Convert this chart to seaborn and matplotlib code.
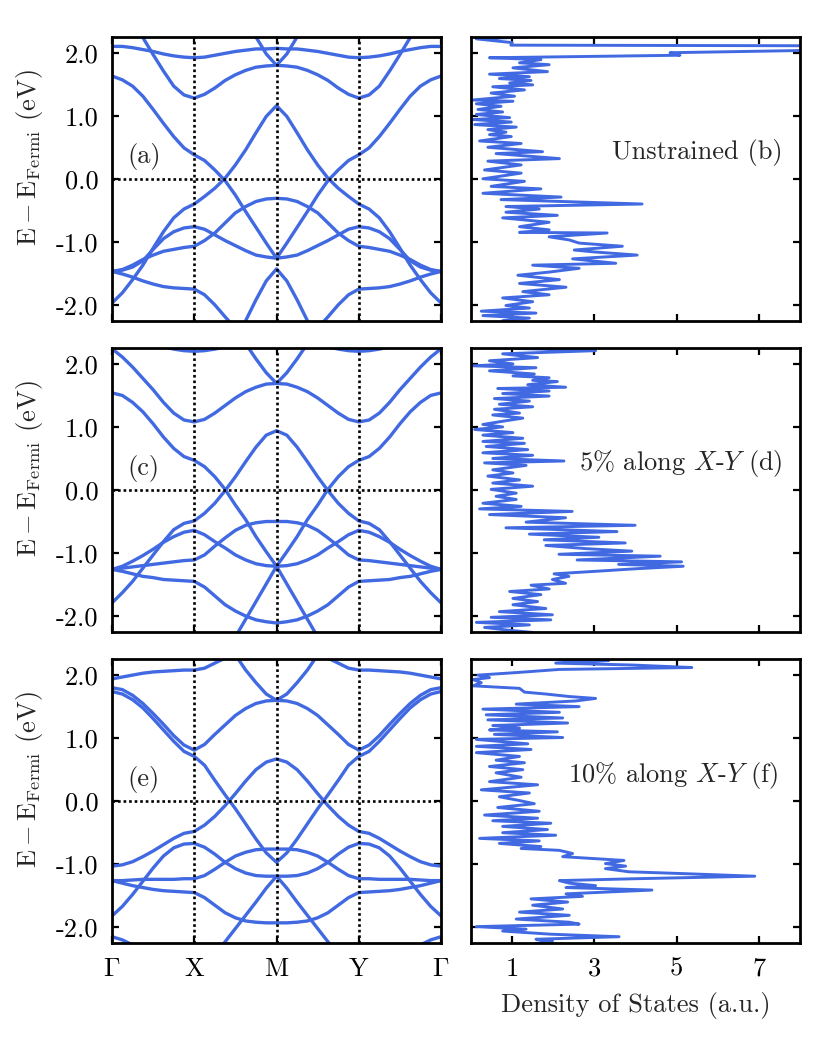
import numpy as np
import pandas as pd
import seaborn as sns
import matplotlib
matplotlib.use("Agg")
import matplotlib.pyplot as plt

nan = np.nan

# --- k-path: Gamma(0) - X(1) - M(2) - Y(3) - Gamma(4) ---
# bands are read on the half path Gamma -> X -> M, the other half is the mirror image
K_HALF = [0, 0.125, 0.25, 0.375, 0.5, 0.625, 0.75, 0.875, 1,
          1.125, 1.25, 1.375, 1.5, 1.625, 1.75, 1.875, 2]
K_TICKS = [0, 1, 2, 3, 4]
K_LABELS = [r"$\Gamma$", "X", "M", "Y", r"$\Gamma$"]
E_TICKS = [-2.0, -1.0, 0.0, 1.0, 2.0]
E_TICK_LABELS = ["-2.0", "-1.0", "0.0", "1.0", "2.0"]
DOS_TICKS = [1, 3, 5, 7]

# (a) unstrained
BANDS_A = [
    [2.10, 2.10, 2.08, 2.05, 2.02, 1.98, 1.95, 1.93, 1.92, 1.93, 1.96, 1.99, 2.02, 2.04, 2.06, 2.06, 2.07],
    [2.80, 2.65, 2.45, 2.24, 1.97, 1.71, 1.47, 1.33, 1.28, 1.34, 1.44, 1.56, 1.65, 1.72, 1.77, 1.79, 1.80],
    [nan] * 11 + [3.00, 2.75, 2.50, 2.25, 1.98, 1.80],
    [1.63, 1.57, 1.47, 1.31, 1.10, 0.88, 0.67, 0.49, 0.38, 0.29, 0.14, -0.03, -0.26, -0.52, -0.77, -1.02, -1.26],
    [-1.97, -1.81, -1.60, -1.37, -1.10, -0.84, -0.62, -0.48, -0.40, -0.28, -0.15, 0.01, 0.22, 0.46, 0.73, 0.99, 1.16],
    [-1.47, -1.44, -1.37, -1.28, -1.21, -1.15, -1.12, -1.09, -1.07, -0.98, -0.86, -0.70, -0.54, -0.44, -0.36, -0.32, -0.31],
    [-1.47, -1.45, -1.40, -1.30, -1.12, -0.95, -0.84, -0.78, -0.76, -0.80, -0.89, -0.98, -1.06, -1.14, -1.21, -1.24, -1.26],
    [-1.47, -1.51, -1.56, -1.62, -1.67, -1.71, -1.73, -1.74, -1.75, -1.84, -2.00, -2.19, -2.37, -2.55, nan, nan, nan],
    [nan] * 11 + [-2.90, -2.60, -2.25, -1.92, -1.62, -1.43],
]

# (c) 5% along X-Y
BANDS_C = [
    [nan, nan, nan, nan, 2.35, 2.27, 2.235, 2.21, 2.20, 2.21, 2.235, 2.27, 2.35, nan, nan, nan, nan],
    [2.24, 2.11, 1.95, 1.77, 1.59, 1.39, 1.22, 1.11, 1.08, 1.12, 1.22, 1.34, 1.46, 1.56, 1.63, 1.68, 1.69],
    [nan] * 11 + [2.85, 2.58, 2.32, 2.08, 1.86, 1.69],
    [1.54, 1.50, 1.39, 1.24, 1.05, 0.84, 0.66, 0.53, 0.47, 0.37, 0.21, 0.01, -0.24, -0.47, -0.74, -0.98, -1.21],
    [-1.79, -1.63, -1.45, -1.24, -1.03, -0.82, -0.63, -0.53, -0.49, -0.37, -0.21, -0.01, 0.21, 0.45, 0.68, 0.87, 0.94],
    [-1.26, -1.24, -1.22, -1.20, -1.18, -1.16, -1.14, -1.12, -1.11, -1.03, -0.89, -0.76, -0.64, -0.56, -0.52, -0.50, -0.50],
    [-1.26, -1.21, -1.13, -1.04, -0.94, -0.83, -0.74, -0.67, -0.64, -0.71, -0.82, -0.92, -1.03, -1.11, -1.17, -1.20, -1.21],
    [-1.26, -1.29, -1.33, -1.37, -1.39, -1.42, -1.43, -1.44, -1.45, -1.54, -1.68, -1.82, -1.92, -2.00, -2.06, -2.09, -2.11],
    [nan] * 10 + [-2.90, -2.61, -2.33, -2.05, -1.77, -1.49, -1.21],
]

# (e) 10% along X-Y
BANDS_E = [
    [1.94, 1.97, 2.00, 2.03, 2.05, 2.06, 2.07, 2.08, 2.08, 2.11, 2.19, 2.27, 2.40, 2.55, nan, nan, nan],
    [1.80, 1.77, 1.68, 1.55, 1.39, 1.22, 1.04, 0.89, 0.81, 0.90, 1.06, 1.21, 1.36, 1.47, 1.55, 1.59, 1.60],
    [nan] * 11 + [2.55, 2.32, 2.08, 1.88, 1.70, 1.60],
    [1.74, 1.70, 1.61, 1.48, 1.31, 1.13, 0.95, 0.79, 0.71, 0.57, 0.33, 0.10, -0.12, -0.36, -0.60, -0.82, -0.97],
    [-1.03, -1.01, -0.96, -0.88, -0.79, -0.69, -0.59, -0.51, -0.48, -0.38, -0.24, -0.07, 0.12, 0.32, 0.50, 0.62, 0.67],
    [-1.26, -1.26, -1.25, -1.24, -1.24, -1.24, -1.24, -1.23, -1.23, -1.18, -1.08, -0.97, -0.87, -0.81, -0.77, -0.76, -0.76],
    [-1.82, -1.67, -1.48, -1.27, -1.06, -0.87, -0.74, -0.68, -0.67, -0.73, -0.84, -0.97, -1.07, -1.14, -1.18, -1.19, -1.19],
    [-1.26, -1.30, -1.34, -1.37, -1.40, -1.42, -1.43, -1.44, -1.45, -1.53, -1.65, -1.77, -1.85, -1.90, -1.92, -1.93, -1.93],
    [nan] * 8 + [-2.85, -2.65, -2.44, -2.23, -2.02, -1.81, -1.60, -1.38, -1.19],
    [-2.15, -2.20, -2.28, -2.40, -2.55] + [nan] * 12,
]

# --- density of states (energy, DOS) ---
E_B = [2.25, 2.22, 2.16, 2.12, 2.11, 2.04, 2.00, 1.96, 1.92, 1.89, 1.84, 1.81, 1.76, 1.70, 1.66, 1.62,
       1.59, 1.56, 1.52, 1.49, 1.46, 1.41, 1.36, 1.31, 1.25, 1.23, 1.19, 1.15, 1.10, 1.06, 1.02, 0.97,
       0.94, 0.90, 0.86, 0.82, 0.78, 0.74, 0.70, 0.67, 0.60, 0.56, 0.50, 0.43, 0.40, 0.32, 0.28, 0.22,
       0.14, 0.09, 0.00, -0.04, -0.12, -0.16, -0.23, -0.29, -0.33, -0.40, -0.44, -0.48, -0.53, -0.58,
       -0.62, -0.69, -0.76, -0.81, -0.85, -0.86, -0.92, -0.97, -1.02, -1.07, -1.13, -1.16, -1.21, -1.27,
       -1.34, -1.37, -1.42, -1.48, -1.53, -1.60, -1.66, -1.72, -1.79, -1.84, -1.89, -1.95, -2.01, -2.05,
       -2.10, -2.13, -2.17, -2.21, -2.25]
DOS_B = [1.42, 0.13, 1.00, 0.97, 8.5, 8.5, 4.84, 5.08, 0.45, 1.70, 1.18, 1.90, 1.02, 1.86, 0.45, 1.42,
         0.69, 1.46, 0.94, 1.50, 0.53, 1.30, 0.49, 1.06, 0.05, 1.02, 0.13, 0.73, 0.17, 0.77, 0.13, 0.94,
         0.05, 0.98, 0.09, 1.10, 0.41, 0.85, 0.45, 0.98, 0.21, 1.22, 0.41, 1.74, 0.61, 2.15, 0.41, 1.22,
         0.33, 1.22, 0.29, 1.30, 0.49, 1.70, 0.29, 2.19, 0.73, 4.16, 0.85, 1.66, 0.85, 2.10,
         0.77, 1.90, 1.18, 1.90, 1.18, 3.31, 1.90, 2.39, 2.63, 3.68, 2.51, 2.99, 4.04, 2.47,
         3.52, 1.50, 2.63, 1.90, 1.14, 2.15, 1.18, 2.31, 1.26, 1.90, 0.77, 1.50, 0.85, 1.42,
         0.25, 1.58, 0.29, 1.42, 0.77]

E_D = [2.26, 2.21, 2.16, 2.10, 2.05, 2.00, 1.97, 1.94, 1.89, 1.84,
       1.81, 1.78, 1.74, 1.72, 1.67, 1.63, 1.61, 1.57, 1.53, 1.49,
       1.45, 1.41, 1.36, 1.32, 1.28, 1.22, 1.19, 1.14, 1.09, 1.04,
       1.00, 0.96, 0.91, 0.87, 0.82, 0.77, 0.74, 0.69, 0.64, 0.59,
       0.55, 0.50, 0.46, 0.43, 0.39, 0.32, 0.27, 0.22, 0.16, 0.11,
       0.06, 0.01, -0.05, -0.10, -0.15, -0.21, -0.26, -0.30, -0.34, -0.39,
       -0.44, -0.51, -0.56, -0.60, -0.66, -0.70, -0.75, -0.79, -0.84, -0.88,
       -0.93, -0.97, -1.02, -1.05, -1.11, -1.14, -1.18, -1.21, -1.25, -1.29,
       -1.33, -1.37, -1.42, -1.48, -1.51, -1.57, -1.61, -1.66, -1.72, -1.77,
       -1.82, -1.88, -1.93, -1.98, -2.02, -2.06, -2.10, -2.14, -2.18, -2.22,
       -2.26]
DOS_D = [0.33, 3.03, 0.77, 1.62, 0.45, 1.02, 0.05, 1.58, 0.45, 1.54,
         1.02, 1.90, 1.50, 2.10, 1.38, 2.30, 0.65, 1.90, 0.77, 1.90,
         0.57, 1.42, 0.69, 1.50, 0.57, 1.18, 0.53, 1.26, 0.77, 0.29,
         0.77, 0.09, 1.02, 0.29, 1.26, 0.29, 1.30, 0.37, 1.38, 0.29,
         1.50, 0.53, 2.26, 0.33, 1.34, 0.53, 1.02, 0.41, 1.18, 0.53,
         1.50, 0.49, 1.10, 0.61, 1.10, 0.29, 1.22, 0.21, 2.46, 0.45,
         2.30, 1.34, 3.99, 0.85, 3.55, 1.42, 3.11, 1.78, 3.75, 1.82,
         2.79, 3.91, 2.14, 4.60, 2.58, 5.12, 3.59, 5.16, 3.99, 3.03,
         2.02, 2.38, 1.98, 2.30, 1.46, 1.90, 0.94, 1.70, 1.02, 1.62,
         1.02, 1.82, 0.69, 1.98, 0.49, 1.94, 0.13, 1.42, 0.33, 0.85,
         1.50]

E_F = [2.26, 2.23, 2.19, 2.16, 2.12, 2.09, 2.04, 2.00, 1.96, 1.93,
       1.88, 1.83, 1.79, 1.73, 1.70, 1.66, 1.63, 1.59, 1.54, 1.50,
       1.46, 1.41, 1.37, 1.32, 1.29, 1.24, 1.20, 1.16, 1.13, 1.10,
       1.06, 1.01, 0.98, 0.91, 0.87, 0.82, 0.77, 0.71, 0.65, 0.61,
       0.55, 0.50, 0.45, 0.38, 0.31, 0.26, 0.18, 0.13, 0.07, 0.01,
       -0.04, -0.10, -0.16, -0.22, -0.27, -0.31, -0.35, -0.40, -0.45, -0.50,
       -0.54, -0.59, -0.63, -0.67, -0.72, -0.75, -0.78, -0.83, -0.88, -0.94,
       -0.99, -1.03, -1.07, -1.12, -1.15, -1.19, -1.23, -1.26, -1.30, -1.34,
       -1.37, -1.41, -1.47, -1.51, -1.55, -1.60, -1.65, -1.71, -1.76, -1.81,
       -1.87, -1.92, -1.95, -1.99, -2.03, -2.06, -2.11, -2.15, -2.19, -2.22,
       -2.26]
DOS_F = [0.73, 3.35, 2.06, 3.92, 5.37, 2.15, 1.10, 0.17, 0.45, 0.05,
         0.25, 0.05, 1.18, 1.30, 1.82, 2.39, 3.03, 2.55, 1.10, 2.63,
         0.29, 2.15, 0.37, 2.23, 0.41, 2.35, 0.53, 1.18, 0.45, 2.10,
         0.57, 2.23, 0.13, 1.38, 0.13, 1.46, 0.13, 1.18, 0.61, 1.30,
         0.45, 1.26, 0.61, 1.22, 0.45, 1.62, 0.25, 1.42, 0.69, 1.18,
         1.54, 0.65, 1.66, 0.33, 1.62, 0.53, 1.94, 0.77, 1.86, 0.77,
         2.06, 0.21, 1.66, 0.69, 1.70, 1.22, 2.15, 2.47, 2.23, 3.72,
         3.27, 3.76, 3.27, 3.84, 5.21, 6.90, 4.00, 2.15, 2.39, 3.03,
         2.31, 4.40, 2.31, 2.71, 1.46, 2.35, 1.50, 2.23, 1.18, 2.39,
         1.10, 2.39, 2.63, 0.13, 1.34, 0.77, 1.94, 3.60, 1.58, 1.98,
         1.54]

PANEL_TAGS = ["(a)", "(c)", "(e)"]
DOS_TAGS = ["Unstrained (b)", r"5% along $X$-$Y$ (d)", r"10% along $X$-$Y$ (f)"]

BLUE = "#4169E1"
DOT = (0, (1.0, 1.1))


def band_frame(bands):
    k_full = K_HALF + [4 - k for k in K_HALF[::-1][1:]]
    rows = []
    for i, e in enumerate(bands):
        e_full = e + e[::-1][1:]
        for k, v in zip(k_full, e_full):
            rows.append({"band": i, "k": k, "E": v})
    return pd.DataFrame(rows)


sns.set_theme(style="ticks")
plt.rcParams.update({
    "font.family": ["cmr10"],
    "mathtext.fontset": "cm",
    "axes.unicode_minus": False,
    "font.size": 19,
    "axes.linewidth": 2.0,
    "axes.edgecolor": "black",
})

fig, axes = plt.subplots(3, 2, figsize=(8.31, 10.38), dpi=100)
fig.subplots_adjust(left=0.1348, right=0.9627, top=0.9644, bottom=0.0915,
                    wspace=0.091, hspace=0.097)

band_sets = [BANDS_A, BANDS_C, BANDS_E]
dos_sets = [(E_B, DOS_B), (E_D, DOS_D), (E_F, DOS_F)]
dos_tag_pos = [(0.948, 0.592), (0.948, 0.595), (0.933, 0.59)]

for row in range(3):
    ax = axes[row, 0]
    df = band_frame(band_sets[row])
    sns.lineplot(data=df, x="k", y="E", units="band", estimator=None, sort=False,
                 color=BLUE, linewidth=2.4, legend=False, ax=ax)
    for k in K_TICKS[1:-1]:
        ax.axvline(k, color="black", ls=DOT, lw=1.9, zorder=3)
    ax.axhline(0, color="black", ls=DOT, lw=1.9, zorder=3)
    ax.set_xlim(0, 4)
    ax.set_ylim(-2.25, 2.25)
    ax.set_xticks(K_TICKS)
    ax.set_yticks(E_TICKS)
    ax.set_yticklabels(E_TICK_LABELS)
    ax.tick_params(direction="in", top=True, right=True, length=5, width=1.6,
                   pad=10, labelsize=19, colors="black")
    ax.set_xlabel("")
    if row == 2:
        ax.set_xticklabels(K_LABELS)
    else:
        ax.tick_params(labelbottom=False)
    ax.set_ylabel(r"$\mathrm{E} - \mathrm{E}_{\mathrm{Fermi}}$ (eV)", fontsize=19)
    ax.yaxis.set_label_coords(-0.205, 0.576)
    ax.text(0.046, 0.577, PANEL_TAGS[row], transform=ax.transAxes,
            ha="left", va="center", fontsize=19)

    ax = axes[row, 1]
    e_vals, d_vals = dos_sets[row]
    sns.lineplot(x=d_vals, y=e_vals, sort=False, estimator=None,
                 color=BLUE, linewidth=2.1, ax=ax)
    ax.set_xlim(0, 8)
    ax.set_ylim(-2.25, 2.25)
    ax.set_xticks(DOS_TICKS)
    ax.set_yticks(E_TICKS)
    ax.tick_params(direction="in", top=True, right=True, length=5, width=1.6,
                   pad=10, labelsize=19, labelleft=False, colors="black")
    if row == 2:
        ax.set_xlabel("Density of States (a.u.)", fontsize=19, labelpad=8)
    else:
        ax.tick_params(labelbottom=False)
    tx, ty = dos_tag_pos[row]
    ax.text(tx, ty, DOS_TAGS[row], transform=ax.transAxes,
            ha="right", va="center", fontsize=19)

fig.savefig("out.png", dpi=100)
